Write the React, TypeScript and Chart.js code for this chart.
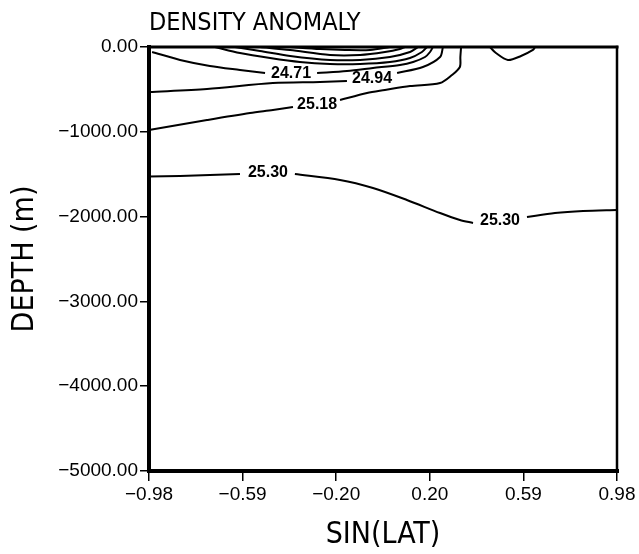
import React, { useEffect, useRef } from 'react';
import { Chart, registerables } from 'chart.js';

Chart.register(...registerables);

const TITLE = 'DENSITY ANOMALY';
const X_TITLE = 'SIN(LAT)';
const Y_TITLE = 'DEPTH (m)';

const xTickValues = [-0.98, -0.588, -0.196, 0.196, 0.588, 0.98];
const yTickValues = [0, -1000, -2000, -3000, -4000, -5000];

// contour segments as [sin(lat), depth] pairs
const c2530a = [[-0.98, -1527], [-0.85, -1521], [-0.725, -1509], [-0.599, -1498]];
const c2530b = [[-0.369, -1498], [-0.18, -1568], [-0.042, -1663], [0.1, -1804], [0.239, -1958], [0.322, -2040], [0.377, -2075]];
const c2530c = [[0.603, -2005], [0.72, -1958], [0.838, -1934], [0.98, -1922]];

const c2518a = [[-0.98, -979], [-0.737, -861], [-0.557, -778], [-0.461, -743], [-0.377, -708]];
const c2518b = [[-0.18, -625], [-0.067, -542], [0.008, -507], [0.113, -460], [0.239, -425], [0.289, -330], [0.322, -236], [0.324, -118], [0.327, 0]];

const c2494a = [[-0.98, -531], [-0.737, -495], [-0.461, -425], [-0.264, -413], [-0.151, -401]];
const c2494b = [[0.059, -307], [0.167, -236], [0.239, -118], [0.251, 0]];

const c2471a = [[-0.967, -59], [-0.85, -153], [-0.725, -224], [-0.599, -271], [-0.494, -307]];
const c2471b = [[-0.276, -307], [-0.151, -283], [-0.042, -248], [0.071, -212], [0.126, -177], [0.176, -118], [0.197, -59], [0.209, 0]];

const arc1 = [[-0.704, 0], [-0.599, -71], [-0.473, -130], [-0.348, -177], [-0.222, -200], [-0.096, -200], [0.029, -177], [0.113, -130], [0.163, -59], [0.184, 0]];
const arc2 = [[-0.62, 0], [-0.515, -47], [-0.389, -106], [-0.222, -153], [-0.096, -153], [0.029, -118], [0.113, -59], [0.147, 0]];
const arc3 = [[-0.515, 0], [-0.389, -35], [-0.222, -94], [-0.096, -94], [0.008, -59], [0.071, -24], [0.092, 0]];
const arc4 = [[-0.389, 0], [-0.264, -24], [-0.159, -35], [-0.054, -35], [0.029, 0]];

const northCell = [[0.448, 0], [0.473, -71], [0.523, -153], [0.578, -106], [0.628, -35], [0.637, 0]];

const contourLabels = [
  { text: '25.30', x: -0.482, y: -1486 },
  { text: '25.30', x: 0.49, y: -2052 },
  { text: '25.18', x: -0.276, y: -684 },
  { text: '24.94', x: -0.046, y: -377 },
  { text: '24.71', x: -0.385, y: -318 },
];

const segments = [c2530a, c2530b, c2530c, c2518a, c2518b, c2494a, c2494b, c2471a, c2471b, arc1, arc2, arc3, arc4, northCell];

const SANS = "'Liberation Sans', Arial, sans-serif";
const NARROW = "'Liberation Sans Narrow', 'DejaVu Sans Condensed', 'Liberation Sans', sans-serif";

const fmt = (v: number) => v.toFixed(2).replace('-', '\u2212');

const framePlugin = {
  id: 'frame',
  afterDraw(chart: any) {
    const { ctx, chartArea: a } = chart;
    ctx.save();
    ctx.strokeStyle = '#000';
    ctx.lineCap = 'square';
    const line = (x1: number, y1: number, x2: number, y2: number, w: number) => {
      ctx.lineWidth = w;
      ctx.beginPath();
      ctx.moveTo(x1, y1);
      ctx.lineTo(x2, y2);
      ctx.stroke();
    };
    line(a.left, a.top, a.right, a.top, 3);
    line(a.right, a.top, a.right, a.bottom, 2.5);
    line(a.left, a.top, a.left, a.bottom, 4);
    line(a.left, a.bottom, a.right, a.bottom, 4);
    ctx.restore();
  },
};

const labelPlugin = {
  id: 'contourLabels',
  afterDatasetsDraw(chart: any) {
    const { ctx, scales } = chart;
    ctx.save();
    ctx.fillStyle = '#000';
    ctx.font = `bold 16px ${SANS}`;
    ctx.textAlign = 'center';
    ctx.textBaseline = 'middle';
    contourLabels.forEach((l) => {
      ctx.fillText(l.text, scales.x.getPixelForValue(l.x), scales.y.getPixelForValue(l.y));
    });
    ctx.restore();
  },
};

export default function App() {
  const ref = useRef<HTMLCanvasElement>(null);
  useEffect(() => {
    document.body.style.margin = '0';
    const chart = new Chart(ref.current as HTMLCanvasElement, {
      type: 'line',
      data: {
        datasets: segments.map((seg) => ({
          data: seg.map(([x, y]) => ({ x, y })),
          borderColor: '#000',
          borderWidth: 2,
          pointRadius: 0,
          tension: 0.3,
          fill: false,
          clip: 4,
        })),
      },
      options: {
        responsive: false,
        animation: false,
        layout: { padding: { top: 1, right: 22, bottom: 0, left: 0 } },
        plugins: {
          legend: { display: false },
          tooltip: { enabled: false },
          title: {
            display: true,
            text: TITLE,
            align: 'start',
            fullSize: false,
            color: '#000',
            font: { family: NARROW, size: 25, weight: 'normal' },
            padding: { top: 7.5, bottom: 8.5 },
          },
        },
        scales: {
          x: {
            type: 'linear',
            min: -0.98,
            max: 0.98,
            afterBuildTicks: (s: any) => {
              s.ticks = xTickValues.map((v) => ({ value: v }));
            },
            afterFit: (s: any) => {
              s.height = 83;
            },
            grid: { drawOnChartArea: false, drawTicks: true, tickLength: 10, color: '#000', lineWidth: 1.5 },
            border: { display: false },
            ticks: {
              color: '#000',
              padding: 2,
              maxRotation: 0,
              autoSkip: false,
              font: { family: SANS, size: 19 },
              callback: (v: any) => fmt(Number(v)),
            },
            title: {
              display: true,
              text: X_TITLE,
              color: '#000',
              font: { family: NARROW, size: 30, weight: 'normal' },
              padding: { top: 0, bottom: 1 },
            },
          },
          y: {
            type: 'linear',
            min: -5000,
            max: 0,
            afterBuildTicks: (s: any) => {
              s.ticks = yTickValues.map((v) => ({ value: v }));
            },
            afterFit: (s: any) => {
              s.width = 149;
            },
            grid: { drawOnChartArea: false, drawTicks: true, tickLength: 9, color: '#000', lineWidth: 1.5 },
            border: { display: false },
            ticks: {
              color: '#000',
              padding: 2,
              autoSkip: false,
              font: { family: SANS, size: 19 },
              callback: (v: any) => fmt(Number(v)),
            },
            title: {
              display: true,
              text: Y_TITLE,
              color: '#000',
              font: { family: NARROW, size: 30, weight: 'normal' },
              padding: { top: 7, bottom: 0 },
            },
          },
        },
      },
      plugins: [labelPlugin, framePlugin],
    } as any);
    return () => chart.destroy();
  }, []);
  return <canvas ref={ref} width={639} height={554} style={{ display: 'block' }} />;
}
